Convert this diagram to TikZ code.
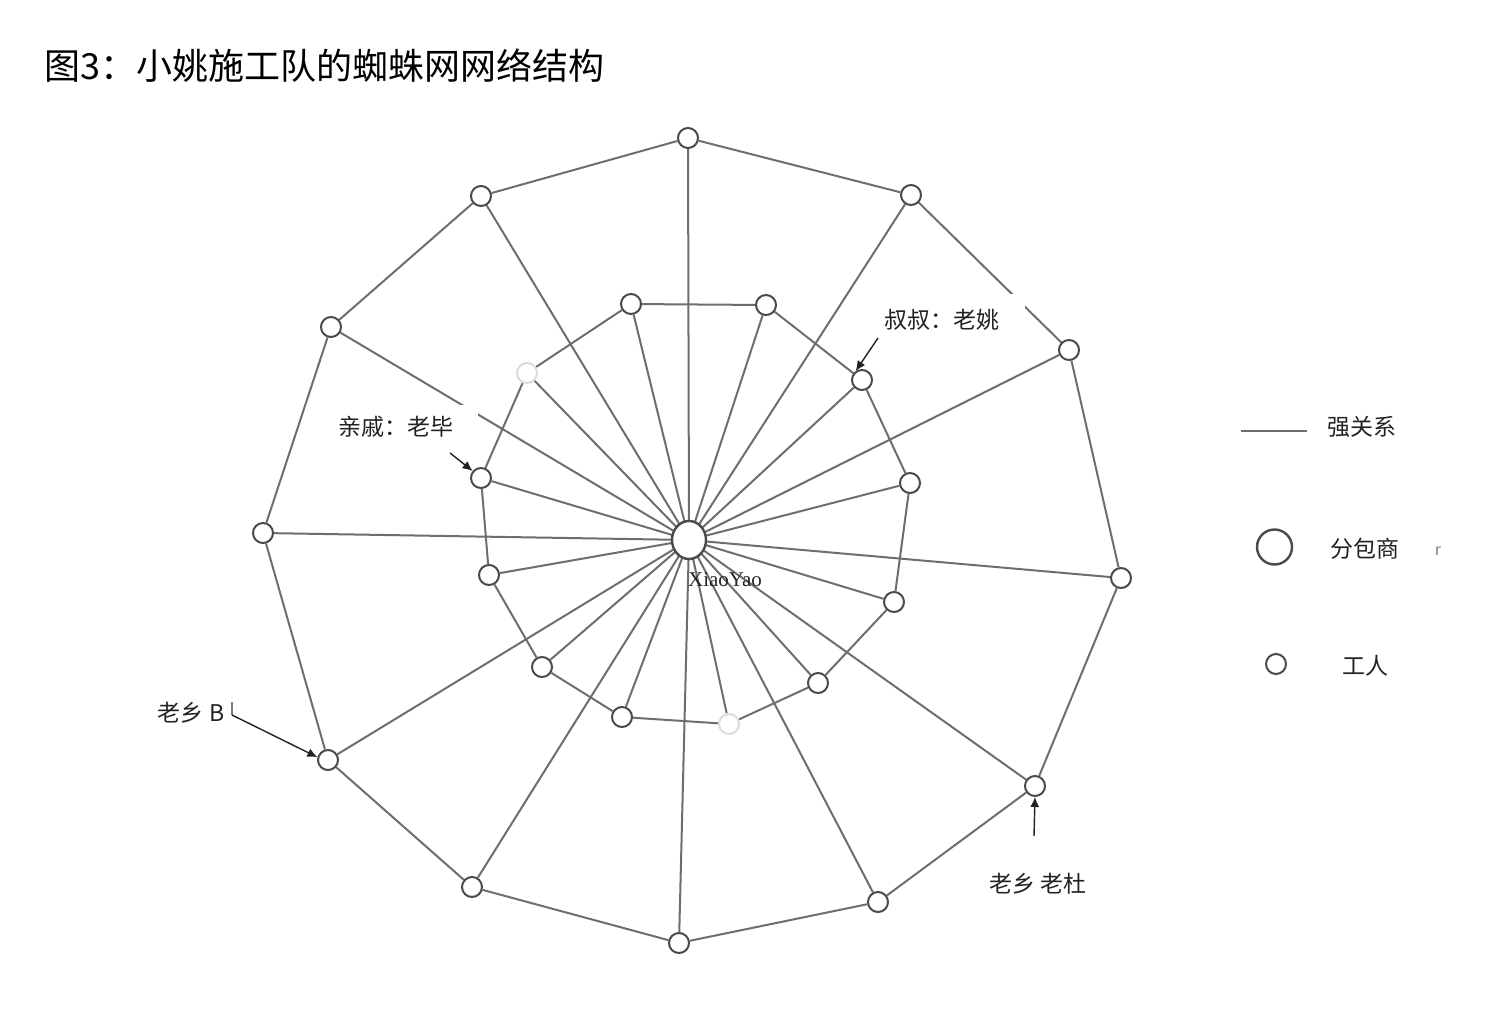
\documentclass[tikz,border=0pt]{standalone}
\usepackage{fontspec}
\setmainfont{Liberation Serif}
\newfontfamily\cjk{Noto Sans CJK SC}
\usetikzlibrary{arrows.meta,shapes.geometric,backgrounds}
\definecolor{edgec}{HTML}{6E6E6E}
\definecolor{nodec}{HTML}{4A4A4A}
\definecolor{fadec}{HTML}{DCDCDC}
\definecolor{txtc}{HTML}{222222}
\tikzset{
  worker/.style={circle, draw=nodec, fill=white, line width=1pt, minimum size=10pt, inner sep=0pt},
  faded/.style={circle, draw=fadec, fill=white, line width=1pt, minimum size=10pt, inner sep=0pt},
  hubnode/.style={ellipse, draw=nodec, fill=white, line width=1.2pt, minimum width=17pt, minimum height=19pt, inner sep=0pt},
  edgeline/.style={draw=edgec, line width=1pt},
  lbl/.style={font=\cjk\fontsize{11.5pt}{13pt}\selectfont, text=txtc, inner sep=0pt},
  coverbox/.style={fill=white, inner sep=0pt},
  pointer/.style={draw=txtc, line width=0.7pt, -{Latex[length=5pt,width=4.5pt]}}
}
\begin{document}
\begin{tikzpicture}[x=0.5pt,y=-0.5pt]
\useasboundingbox (0,0) rectangle (1509,1012);
% title
\node[font=\cjk\fontsize{18pt}{20pt}\selectfont, text=black, inner sep=0pt, anchor=west] (title) at (44,66) {图3：小姚施工队的蜘蛛网网络结构};
% hub
\node[hubnode] (hub) at (689,540) {};
% outer ring
\node[worker] (o1) at (688,138) {};
\node[worker] (o2) at (911,195) {};
\node[worker] (o3) at (1069,350) {};
\node[worker] (o4) at (1121,578) {};
\node[worker] (o5) at (1035,786) {};
\node[worker] (o6) at (878,902) {};
\node[worker] (o7) at (679,943) {};
\node[worker] (o8) at (472,887) {};
\node[worker] (o9) at (328,760) {};
\node[worker] (o10) at (263,533) {};
\node[worker] (o11) at (331,327) {};
\node[worker] (o12) at (481,196) {};
% inner ring
\node[worker] (i1) at (631,304) {};
\node[worker] (i2) at (766,305) {};
\node[worker] (i3) at (862,380) {};
\node[worker] (i4) at (910,483) {};
\node[worker] (i5) at (894,602) {};
\node[worker] (i6) at (818,683) {};
\node[faded] (i7) at (729,724) {};
\node[worker] (i8) at (622,717) {};
\node[worker] (i9) at (542,667) {};
\node[worker] (i10) at (489,575) {};
\node[worker] (i11) at (481,478) {};
\node[faded] (i12) at (527,373) {};
% edges
\begin{scope}[on background layer]
\fill[white] (0,0) rectangle (1509,1012);
\foreach \k in {1,...,12}{
  \draw[edgeline] (hub.center) -- (o\k);
  \draw[edgeline] (hub.center) -- (i\k);
}
\draw[edgeline] (o1) -- (o2) -- (o3) -- (o4) -- (o5) -- (o6) -- (o7) -- (o8) -- (o9) -- (o10) -- (o11) -- (o12) -- (o1);
\draw[edgeline] (i1) -- (i2) -- (i3) -- (i4) -- (i5) -- (i6) -- (i7) -- (i8) -- (i9) -- (i10) -- (i11) -- (i12) -- (i1);
\end{scope}
% hub label
\node[font=\fontsize{10.5pt}{12pt}\selectfont, text=black!85, inner sep=0pt] (hubname) at (725,580) {XiaoYao};
% annotation boxes
\node[coverbox, minimum width=77.5pt, minimum height=23.5pt] (boxa) at (947.5,317) {};
\node[lbl] (laba) at (942,320) {叔叔：老姚};
\coordinate (pa) at (878,338);
\draw[pointer] (pa) -- (i3.125);
\node[coverbox, minimum width=74pt, minimum height=23.5pt] (boxb) at (404,428.5) {};
\node[lbl] (labb) at (396,427) {亲戚：老毕};
\coordinate (pb) at (450,453);
\draw[pointer] (pb) -- (i11.140);
\node[lbl] (labc) at (191,713) {老乡 B};
\coordinate (pc1) at (232,702);
\coordinate (pc2) at (232,715);
\draw[draw=txtc!60, line width=0.7pt] (pc1) -- (pc2);
\draw[pointer] (pc2) -- (o9.165);
\node[lbl] (labd) at (1038,884) {老乡 老杜};
\coordinate (pd) at (1034,836);
\draw[pointer] (pd) -- (o5.south);
% legend
\coordinate (la) at (1241,431);
\coordinate (lb) at (1307,431);
\draw[edgec, line width=1.4pt] (la) -- (lb);
\node[lbl] (leg1) at (1362,427) {强关系};
\node[circle, draw=nodec, line width=1.2pt, minimum size=17.5pt, inner sep=0pt] (lgbig) at (1274.5,547) {};
\node[lbl] (leg2) at (1365,549) {分包商};
\node[font=\cjk\fontsize{8pt}{9pt}\selectfont, text=gray, inner sep=0pt] (legr) at (1438,551) {r};
\node[worker] (lgsmall) at (1276,664) {};
\node[lbl] (leg3) at (1365,666) {工人};
\end{tikzpicture}
\end{document}
